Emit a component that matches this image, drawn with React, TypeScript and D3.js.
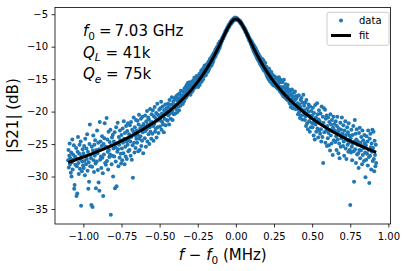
import { useEffect, useRef } from 'react'
import * as d3 from 'd3'

// frequency sweep (offset from f0, MHz): first point and spacing
const sweepStart = -1.1
const sweepStep = 0.0025

// measured |S21| in dB, one row per 0.05 MHz of the sweep
const s21dB: number[] = [
  -27.5, -25.9, -28.6, -26.8, -24.9, -28.1, -27.2, -29.4, -26.3, -30.0, -27.8, -24.3, -28.9, -26.6, -27.4, -25.2, -31.9, -31.3, -26.9, -28.2,
  -27.1, -25.6, -33.0, -28.4, -32.6, -26.2, -23.9, -27.9, -29.6, -26.5, -25.1, -28.8, -27.3, -24.6, -34.5, -26.9, -29.2, -27.7, -25.8, -28.3,
  -26.4, -28.7, -25.3, -27.6, -29.8, -24.2, -26.9, -28.1, -25.7, -27.3, -23.5, -29.1, -26.2, -31.9, -27.8, -30.8, -25.0, -22.0, -28.4, -26.7,
  -27.2, -34.4, -25.4, -28.5, -34.7, -26.0, -23.7, -27.5, -29.3, -25.1, -26.8, -24.4, -28.0, -31.8, -25.9, -27.7, -22.9, -26.4, -29.0, -24.8,
  -30.9, -25.8, -32.2, -21.6, -27.4, -24.6, -26.9, -28.7, -25.3, -23.8, -27.1, -29.5, -33.0, -25.0, -26.6, -24.1, -21.8, -27.9, -25.5, -28.2,
  -25.4, -21.0, -27.6, -24.3, -26.2, -28.9, -23.1, -25.9, -27.0, -24.7, -26.6, -22.8, -35.9, -25.2, -28.1, -24.0, -26.8, -23.6, -30.0, -25.7,
  -24.6, -26.9, -23.2, -31.8, -25.5, -27.7, -22.4, -31.5, -24.9, -26.2, -21.7, -25.8, -28.4, -23.9, -25.1, -27.1, -22.9, -24.4, -26.5, -28.0,
  -23.6, -25.7, -27.5, -22.6, -24.8, -26.4, -21.5, -24.2, -28.1, -23.3, -25.4, -26.9, -22.2, -24.6, -27.3, -23.0, -25.1, -21.8, -26.1, -24.4,
  -23.5, -25.9, -22.1, -24.6, -26.8, -21.6, -23.9, -27.4, -22.8, -25.2, -30.2, -23.1, -20.9, -24.8, -26.3, -22.4, -23.7, -25.6, -21.3, -24.2,
  -22.9, -24.8, -21.4, -23.6, -26.1, -22.0, -20.5, -24.2, -25.9, -22.6, -23.8, -21.1, -25.3, -22.3, -24.5, -20.8, -23.2, -26.4, -21.9, -23.0,
  -22.3, -24.1, -20.6, -23.0, -25.4, -21.5, -22.7, -19.9, -24.6, -22.0, -20.9, -23.5, -21.2, -25.0, -22.4, -19.6, -23.1, -21.7, -24.2, -20.4,
  -21.6, -23.4, -19.8, -22.2, -24.5, -20.7, -21.9, -19.3, -23.1, -21.0, -22.6, -20.2, -24.0, -21.4, -18.8, -22.4, -20.5, -23.3, -21.2, -19.7,
  -20.8, -22.3, -19.5, -21.4, -18.5, -22.8, -20.3, -21.6, -19.2, -22.0, -20.6, -23.2, -19.8, -21.1, -20.0, -18.9, -22.1, -20.4, -19.5, -21.3,
  -20.0, -21.4, -18.8, -20.6, -19.3, -22.0, -18.2, -20.3, -19.6, -21.1, -18.9, -20.1, -17.8, -19.9, -21.3, -19.0, -18.4, -20.4, -19.2, -17.9,
  -19.0, -20.3, -18.1, -19.6, -17.6, -18.9, -20.1, -18.3, -17.4, -19.2, -18.0, -19.8, -17.2, -18.6, -17.9, -19.1, -16.8, -18.2, -17.5, -18.8,
  -17.9, -18.8, -16.9, -17.6, -18.4, -16.5, -17.3, -18.0, -16.2, -17.1, -17.8, -15.9, -16.8, -17.5, -15.6, -16.4, -17.3, -16.0, -15.5, -17.0,
  -16.7, -17.4, -15.9, -16.5, -17.0, -15.4, -16.1, -16.8, -15.2, -15.9, -16.4, -14.8, -15.7, -16.3, -14.9, -15.6, -16.0, -14.5, -15.3, -15.8,
  -15.0, -16.2, -14.6, -15.7, -14.2, -15.9, -14.8, -14.1, -15.5, -13.7, -14.9, -15.3, -13.5, -14.4, -15.0, -13.3, -14.6, -13.9, -12.9, -14.3,
  -13.2, -14.4, -13.6, -12.8, -14.0, -13.1, -12.6, -13.8, -12.4, -13.5, -12.2, -13.2, -11.9, -13.0, -12.5, -11.7, -12.9, -12.0, -11.4, -12.5,
  -11.3, -12.2, -11.0, -11.8, -10.9, -11.6, -10.5, -11.4, -10.4, -11.1, -10.1, -10.9, -10.0, -10.7, -9.6, -10.4, -9.5, -10.2, -9.2, -9.9,
  -9.2, -9.5, -9.0, -9.2, -8.7, -8.9, -8.5, -8.7, -8.2, -8.4, -8.0, -8.2, -7.7, -7.9, -7.5, -7.7, -7.3, -7.5, -7.0, -7.2,
  -6.8, -7.0, -6.6, -6.9, -6.5, -6.6, -6.2, -6.5, -6.1, -6.3, -5.9, -6.2, -5.8, -6.0, -5.7, -5.9, -5.6, -5.9, -5.5, -5.7,
  -5.6, -5.8, -5.6, -5.9, -5.7, -5.9, -5.8, -6.0, -5.9, -6.1, -6.0, -6.3, -6.1, -6.4, -6.3, -6.6, -6.5, -6.8, -6.7, -7.0,
  -6.9, -7.2, -7.1, -7.4, -7.3, -7.7, -7.5, -7.9, -7.8, -8.2, -8.0, -8.4, -8.2, -8.7, -8.5, -9.0, -8.7, -9.2, -9.0, -9.5,
  -9.1, -9.8, -9.3, -10.1, -9.5, -10.4, -9.7, -10.7, -9.9, -10.9, -10.1, -11.2, -10.3, -11.4, -10.6, -11.7, -10.8, -11.9, -11.0, -12.1,
  -11.2, -12.3, -11.5, -12.6, -11.6, -12.8, -11.9, -12.4, -13.1, -11.9, -12.7, -13.4, -12.1, -13.6, -12.4, -13.0, -13.8, -12.5, -13.3, -14.1,
  -13.1, -14.4, -13.3, -14.7, -13.5, -14.1, -15.0, -13.4, -14.6, -15.3, -13.8, -14.8, -15.5, -13.9, -15.1, -14.3, -15.8, -14.4, -15.2, -16.0,
  -15.0, -15.8, -14.6, -15.5, -16.1, -14.9, -15.7, -16.3, -14.8, -15.9, -16.5, -15.2, -16.0, -14.7, -16.6, -15.5, -16.9, -15.1, -16.2, -17.1,
  -16.4, -17.3, -15.5, -16.9, -17.6, -16.2, -15.1, -17.0, -17.8, -16.5, -17.4, -15.8, -16.9, -18.1, -16.3, -17.5, -15.9, -18.3, -17.0, -16.6,
  -17.6, -18.7, -16.9, -18.2, -19.3, -17.4, -18.8, -16.6, -18.0, -19.5, -17.7, -18.5, -17.1, -19.0, -18.3, -16.9, -19.6, -18.1, -17.6, -19.1,
  -17.8, -19.6, -18.7, -20.4, -19.0, -17.5, -20.1, -18.9, -21.0, -19.3, -18.2, -20.6, -17.9, -19.7, -21.2, -18.6, -19.9, -17.4, -20.5, -19.1,
  -19.8, -21.3, -18.6, -20.7, -22.2, -18.2, -20.4, -21.8, -19.5, -22.7, -20.0, -18.9, -21.5, -20.6, -23.1, -19.2, -21.0, -22.4, -19.9, -21.7,
  -20.6, -22.4, -19.4, -21.8, -23.7, -20.2, -21.3, -24.3, -19.0, -22.0, -20.9, -23.1, -21.6, -18.7, -22.6, -20.4, -24.0, -21.2, -19.8, -22.9,
  -21.5, -23.4, -20.3, -22.7, -24.6, -19.2, -22.0, -23.9, -20.8, -27.9, -21.7, -19.5, -23.2, -22.3, -19.7, -24.8, -21.1, -22.9, -20.6, -25.3,
  -22.2, -24.1, -20.9, -23.3, -25.2, -21.6, -22.8, -26.0, -20.4, -23.7, -22.0, -24.9, -21.3, -23.0, -26.7, -22.5, -20.8, -24.4, -23.1, -21.9,
  -22.9, -24.7, -21.5, -23.8, -25.9, -22.2, -20.8, -24.3, -23.1, -26.4, -22.6, -24.9, -27.2, -23.5, -21.7, -25.4, -22.8, -24.1, -20.9, -23.6,
  -23.4, -25.3, -22.1, -24.6, -26.8, -22.9, -24.0, -21.5, -25.7, -23.6, -27.3, -24.4, -22.4, -25.1, -23.2, -26.2, -21.8, -24.8, -23.7, -25.9,
  -34.4, -24.1, -26.3, -22.8, -25.4, -27.5, -23.6, -24.9, -22.2, -26.1, -30.8, -24.6, -21.3, -25.8, -23.4, -27.9, -24.3, -22.7, -26.6, -25.1,
  -24.6, -26.4, -28.7, -23.3, -25.9, -22.5, -27.2, -24.8, -26.0, -23.9, -25.3, -28.1, -22.9, -26.7, -24.4, -25.6, -27.6, -23.6, -24.9, -26.3,
  -30.1, -25.2, -27.4, -23.8, -26.5, -24.6, -28.3, -22.9, -25.9, -27.0, -31.0, -24.2, -26.8, -23.4, -25.5, -28.9, -24.9, -26.2, -22.8, -27.6,
  -25.6, -23.1, -27.3, -29.2, -24.5, -26.7, -28.4, -25.1, -27.9,
]

// fitted lorentzian
const fitX = [
  -1.1, -1.0, -0.9, -0.8, -0.7, -0.6, -0.5, -0.45, -0.4, -0.35, -0.3, -0.25, -0.2, -0.18, -0.16, -0.14, -0.12,
  -0.1, -0.09, -0.08, -0.07, -0.06, -0.05, -0.04, -0.03, -0.02, -0.01, 0, 0.01, 0.02, 0.03, 0.04, 0.05, 0.06,
  0.07, 0.08, 0.09, 0.1, 0.12, 0.14, 0.16, 0.18, 0.2, 0.25, 0.3, 0.35, 0.4, 0.45, 0.5, 0.6, 0.7, 0.8, 0.9, 0.92,
]
const fitY = [
  -27.82, -26.99, -26.08, -25.07, -23.93, -22.61, -21.07, -20.18, -19.2, -18.1, -16.85, -15.42, -13.73, -12.98, -12.17, -11.3, -10.38,
  -9.41, -8.91, -8.41, -7.92, -7.44, -6.99, -6.58, -6.24, -5.97, -5.81, -5.75, -5.81, -5.97, -6.24, -6.58, -6.99, -7.44,
  -7.92, -8.41, -8.91, -9.41, -10.38, -11.3, -12.17, -12.98, -13.73, -15.42, -16.85, -18.1, -19.2, -20.18, -21.07, -22.61, -23.93, -25.07, -26.08, -26.27,
]

const xTicks = [-1, -0.75, -0.5, -0.25, 0, 0.25, 0.5, 0.75, 1]
const yTicks = [-35, -30, -25, -20, -15, -10, -5]

const App = () => {
  const svgRef = useRef<SVGSVGElement | null>(null)

  useEffect(() => {
    if (!svgRef.current) return
    const svg = d3.select(svgRef.current)
    svg.selectAll('*').remove()

    const width = 406
    const height = 271
    const margin = { top: 7.5, right: 15.5, bottom: 47, left: 55 }
    const font = 'DejaVu Sans, sans-serif'
    const blue = '#1f77b4'
    const minus = (s: string) => s.replace('-', '\u2212')

    svg.attr('width', width).attr('height', height)
    svg.append('rect').attr('width', width).attr('height', height).attr('fill', 'white')

    const x = d3.scaleLinear().domain([-1.186, 1.014]).range([margin.left, width - margin.right])
    const y = d3.scaleLinear().domain([-37.31, -3.97]).range([height - margin.bottom, margin.top])

    // data points
    const pts = s21dB.map((v, i) => [sweepStart + i * sweepStep, v])
    svg.append('g')
      .selectAll('circle')
      .data(pts)
      .join('circle')
      .attr('cx', (d) => x(d[0]))
      .attr('cy', (d) => y(d[1]))
      .attr('r', 2)
      .attr('fill', blue)

    // fit curve
    const line = d3
      .line<number>()
      .x((_, i) => x(fitX[i]))
      .y((d) => y(d))
      .curve(d3.curveMonotoneX)
    svg.append('path')
      .datum(fitY)
      .attr('d', line)
      .attr('fill', 'none')
      .attr('stroke', 'black')
      .attr('stroke-width', 3)
      .attr('stroke-linejoin', 'round')

    // axes
    const xAxis = d3.axisBottom(x)
      .tickValues(xTicks)
      .tickFormat((d) => minus(d3.format('.2f')(d as number)))
      .tickSize(3.5)
      .tickSizeOuter(0)
      .tickPadding(5.7)
    const yAxis = d3.axisLeft(y)
      .tickValues(yTicks)
      .tickFormat((d) => minus(String(d)))
      .tickSize(3.5)
      .tickSizeOuter(0)
      .tickPadding(3.5)

    const gx = svg.append('g').attr('transform', `translate(0,${height - margin.bottom})`).call(xAxis)
    const gy = svg.append('g').attr('transform', `translate(${margin.left},0)`).call(yAxis)
    for (const g of [gx, gy]) {
      g.select('.domain').remove()
      g.attr('font-family', font).attr('font-size', 10)
      g.selectAll('line').attr('stroke', 'black').attr('stroke-width', 0.8)
      g.selectAll('text').attr('fill', 'black')
    }

    // frame
    svg.append('rect')
      .attr('x', margin.left)
      .attr('y', margin.top)
      .attr('width', width - margin.left - margin.right)
      .attr('height', height - margin.top - margin.bottom)
      .attr('fill', 'none')
      .attr('stroke', 'black')
      .attr('stroke-width', 0.8)

    // x label
    const xl = svg.append('text')
      .attr('x', (margin.left + width - margin.right) / 2)
      .attr('y', 260)
      .attr('text-anchor', 'middle')
      .attr('font-family', font)
      .attr('font-size', 15)
    xl.append('tspan').attr('font-style', 'italic').text('f')
    xl.append('tspan').text(' \u2212 ')
    xl.append('tspan').attr('font-style', 'italic').text('f')
    xl.append('tspan').attr('font-size', 10.5).attr('dy', 3.5).text('0')
    xl.append('tspan').attr('dy', -3.5).text(' (MHz)')

    // y label
    svg.append('text')
      .attr('transform', `translate(18,${(margin.top + height - margin.bottom) / 2}) rotate(-90)`)
      .attr('text-anchor', 'middle')
      .attr('font-family', font)
      .attr('font-size', 15)
      .text('|S21| (dB)')

    // annotation
    const ann = svg.append('g').attr('font-family', font).attr('font-size', 15).attr('fill', 'black')
    const t1 = ann.append('text').attr('x', 83).attr('y', 36)
    t1.append('tspan').attr('font-style', 'italic').text('f')
    t1.append('tspan').attr('font-size', 10.5).attr('dy', 3.5).text('0')
    t1.append('tspan').attr('dy', -3.5).attr('dx', 4).text('=')
    t1.append('tspan').attr('dx', 3).text('7.03 GHz')

    const t2 = ann.append('text').attr('x', 83).attr('y', 57.5)
    t2.append('tspan').attr('font-style', 'italic').text('Q')
    t2.append('tspan').attr('font-style', 'italic').attr('font-size', 10.5).attr('dy', 3.5).text('L')
    t2.append('tspan').attr('dy', -3.5).text(' = 41k')

    const t3 = ann.append('text').attr('x', 83).attr('y', 79)
    t3.append('tspan').attr('font-style', 'italic').text('Q')
    t3.append('tspan').attr('font-style', 'italic').attr('font-size', 10.5).attr('dy', 3.5).text('e')
    t3.append('tspan').attr('dy', -3.5).text(' = 75k')

    // legend
    const lg = svg.append('g').attr('font-family', font).attr('font-size', 10)
    lg.append('rect')
      .attr('x', 327)
      .attr('y', 12.3)
      .attr('width', 62)
      .attr('height', 33)
      .attr('rx', 2)
      .attr('fill', 'white')
      .attr('fill-opacity', 0.8)
      .attr('stroke', '#cccccc')
      .attr('stroke-width', 1)
    lg.append('circle').attr('cx', 341).attr('cy', 20.5).attr('r', 2).attr('fill', blue)
    lg.append('text').attr('x', 359).attr('y', 24).attr('fill', 'black').text('data')
    lg.append('line')
      .attr('x1', 331).attr('x2', 351)
      .attr('y1', 35.5).attr('y2', 35.5)
      .attr('stroke', 'black')
      .attr('stroke-width', 3)
    lg.append('text').attr('x', 359).attr('y', 39).attr('fill', 'black').text('fit')
  }, [])

  return <svg ref={svgRef} style={{ position: 'absolute', left: 0, top: 0 }}></svg>
}

export default App
